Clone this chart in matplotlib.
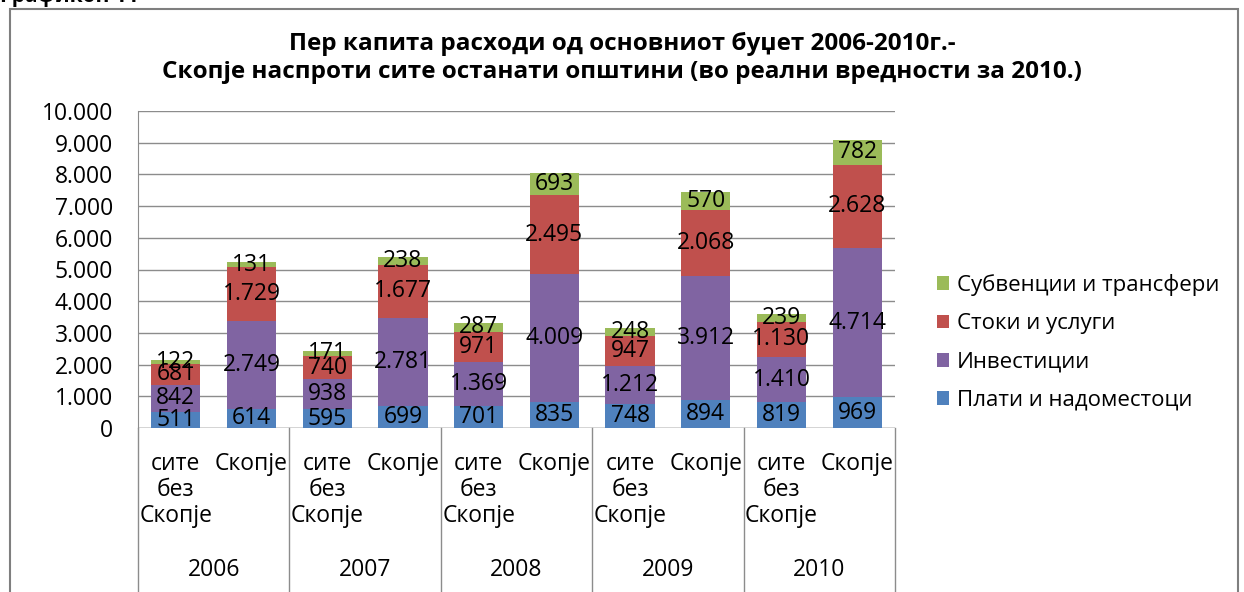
import matplotlib
matplotlib.use("Agg")
import matplotlib.pyplot as plt
from matplotlib.patches import Patch, Rectangle
from matplotlib.lines import Line2D
import numpy as np

plt.rcParams["font.family"] = ["Open Sans", "DejaVu Sans"]

YEARS = ["2006", "2007", "2008", "2009", "2010"]
GROUPS = ["сите\nбез\nСкопје", "Скопје"]

# per bar: (сите без Скопје, Скопје) for each year in order
PLATI = [511, 614, 595, 699, 701, 835, 748, 894, 819, 969]
INVESTICII = [842, 2749, 938, 2781, 1369, 4009, 1212, 3912, 1410, 4714]
STOKI = [681, 1729, 740, 1677, 971, 2495, 947, 2068, 1130, 2628]
SUBVENCII = [122, 131, 171, 238, 287, 693, 248, 570, 239, 782]

SERIES = [
    ("Плати и надоместоци", PLATI, "#4F81BD"),
    ("Инвестиции", INVESTICII, "#8064A2"),
    ("Стоки и услуги", STOKI, "#C0504D"),
    ("Субвенции и трансфери", SUBVENCII, "#9BBB59"),
]

TITLE = ("Пер капита расходи од основниот буџет 2006-2010г.-\n"
         "Скопје наспроти сите останати општини (во реални вредности за 2010.)")

FS = 16.5


def fmt(v):
    return f"{v:,.0f}".replace(",", ".")


fig = plt.figure(figsize=(12.44, 5.92), dpi=100)
ax = fig.add_axes([138 / 1244, 1 - 428 / 592, (895 - 138) / 1244, (428 - 111) / 592])

x = np.arange(len(PLATI))
bottom = np.zeros(len(PLATI))
handles = []
for name, vals, color in SERIES:
    vals = np.array(vals, dtype=float)
    ax.bar(x, vals, width=0.65, bottom=bottom, color=color, zorder=3)
    for xi, b, v in zip(x, bottom, vals):
        ax.text(xi, b + v / 2, fmt(v), ha="center", va="center",
                fontsize=FS, color="black", zorder=4)
    bottom += vals
    handles.append(Patch(facecolor=color, label=name))

ax.set_xlim(-0.5, len(PLATI) - 0.5)
ax.set_ylim(0, 10000)
ax.set_yticks(np.arange(0, 10001, 1000))
ax.set_yticklabels([fmt(v) for v in np.arange(0, 10001, 1000)], fontsize=FS)
ax.tick_params(axis="y", length=0, pad=18)
ax.set_xticks([])
ax.grid(axis="y", color="#8C8C8C", linewidth=1, zorder=0)
for s in ["top", "right", "bottom"]:
    ax.spines[s].set_visible(False)
ax.spines["left"].set_color("#8C8C8C")
ax.axhline(0, color="#8C8C8C", linewidth=1, zorder=2)

# two-level category axis
trans = ax.get_xaxis_transform()
for i in range(len(YEARS) + 1):
    ax.add_line(Line2D([i * 2 - 0.5, i * 2 - 0.5], [0, -0.52], transform=trans,
                       color="#8C8C8C", linewidth=1, clip_on=False))
for i, year in enumerate(YEARS):
    for j, g in enumerate(GROUPS):
        ax.text(i * 2 + j, -0.075, g, transform=trans, ha="center", va="top",
                fontsize=FS, linespacing=1.13)
    ax.text(i * 2 + 0.5, -0.448, year, transform=trans, ha="center",
            va="center", fontsize=FS)

fig.text(622 / 1244, 1 - 58 / 592, TITLE, ha="center", va="center",
         fontsize=17.5, fontweight="bold", linespacing=1.25)

fig.legend(handles=handles[::-1], loc="upper left",
           bbox_to_anchor=(917 / 1244, 1 - 254 / 592), frameon=False,
           fontsize=16, handlelength=0.55, handleheight=0.55,
           handletextpad=0.35, labelspacing=0.78)

# outer chart frame and cut-off caption
fig.patches.append(Rectangle((10 / 1244, -0.1), 1228 / 1244, 1.1 - 9 / 592,
                             transform=fig.transFigure, fill=False,
                             edgecolor="#7F7F7F", linewidth=1.5))
fig.text(0, 1.006, "Графикон 11", ha="left", va="center", fontsize=15,
         fontweight="bold")

fig.savefig("out.png", dpi=100)
